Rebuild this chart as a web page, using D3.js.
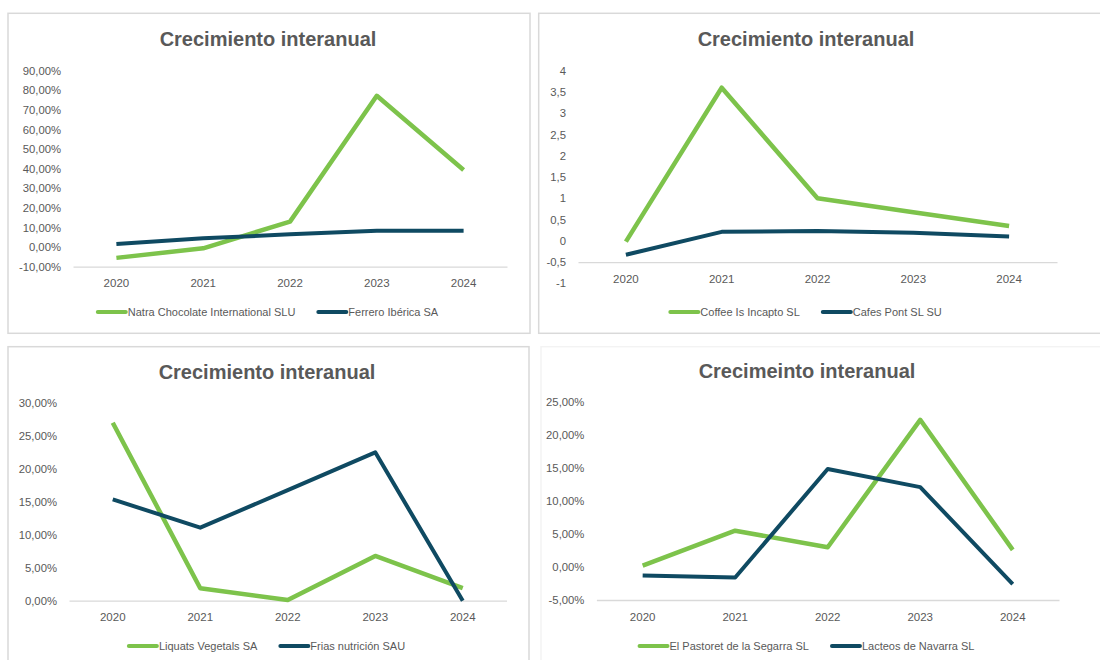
<!DOCTYPE html>
<html>
<head>
<meta charset="utf-8">
<script src="https://cdn.jsdelivr.net/npm/d3@7"></script>
<style>
  html, body { margin: 0; padding: 0; background: #ffffff; }
  svg { display: block; }
  text { font-family: "Liberation Sans", Arial, sans-serif; }
</style>
</head>
<body>
<svg id="chart" width="1100" height="660"></svg>
<script>
// ---------------- DATA ----------------
const years = ["2020", "2021", "2022", "2023", "2024"];

// Panel 1
const title1 = "Crecimiento interanual";
const names1 = ["Natra Chocolate International SLU", "Ferrero Ibérica SA"];
const natra = [-0.055, -0.006, 0.13, 0.772, 0.393];
const ferrero = [0.016, 0.045, 0.065, 0.084, 0.083];
const ticks1 = [-0.1, 0, 0.1, 0.2, 0.3, 0.4, 0.5, 0.6, 0.7, 0.8, 0.9];

// Panel 2
const title2 = "Crecimiento interanual";
const names2 = ["Coffee Is Incapto SL", "Cafes Pont SL SU"];
const incapto = [-0.02, 3.6, 1.0, 0.67, 0.35];
const cafesPont = [-0.33, 0.21, 0.23, 0.19, 0.10];
const ticks2 = [-1, -0.5, 0, 0.5, 1, 1.5, 2, 2.5, 3, 3.5, 4];

// Panel 3
const title3 = "Crecimiento interanual";
const names3 = ["Liquats Vegetals SA", "Frias nutrición SAU"];
const liquats = [0.2705, 0.019, 0.001, 0.068, 0.019];
const frias = [0.154, 0.111, 0.168, 0.2255, 0.0];
const ticks3 = [0, 0.05, 0.1, 0.15, 0.2, 0.25, 0.3];

// Panel 4
const title4 = "Crecimeinto interanual";
const names4 = ["El Pastoret de la Segarra SL", "Lacteos de Navarra SL"];
const pastoret = [0.002, 0.055, 0.030, 0.223, 0.026];
const lacteos = [-0.013, -0.016, 0.1485, 0.121, -0.026];
const ticks4 = [-0.05, 0, 0.05, 0.1, 0.15, 0.2, 0.25];

// ---------------- STYLE ----------------
const GREEN = "#7dc34b";
const DARK = "#0f4a62";
const TEXT = "#595959";
const GRID = "#d9d9d9";

const es = d3.formatLocale({ decimal: ",", thousands: ".", grouping: [3], currency: ["", " €"], minus: "-" });
const fmtPct = es.format(".2%");
const fmtNum = es.format(".2~f");

const svg = d3.select("#chart");

function drawPanel(cfg) {
  const g = svg.append("g");

  if (cfg.box) {
    g.append("rect")
      .attr("x", cfg.box[0]).attr("y", cfg.box[1])
      .attr("width", cfg.box[2]).attr("height", cfg.box[3])
      .attr("fill", "#fff").attr("stroke", cfg.boxColor || GRID).attr("stroke-width", 1.5);
  }

  // title
  g.append("text")
    .attr("x", cfg.cx).attr("y", cfg.titleY)
    .attr("text-anchor", "middle")
    .attr("dominant-baseline", "central")
    .attr("font-size", 20).attr("font-weight", "bold")
    .attr("fill", TEXT)
    .text(cfg.title);

  const x = d3.scaleBand().domain(years).range([cfg.xr[0], cfg.xr[1]]);
  const y = d3.scaleLinear().domain(cfg.yd).range(cfg.yr);

  // y axis labels
  const ya = g.append("g")
    .attr("transform", `translate(${cfg.xr[0]},0)`)
    .call(d3.axisLeft(y).tickValues(cfg.ticks).tickSize(0).tickPadding(12).tickFormat(cfg.fmt));
  ya.select(".domain").remove();
  ya.selectAll("text").attr("fill", TEXT).attr("font-size", 11.3)
    .attr("font-family", "Liberation Sans, Arial, sans-serif");

  // x axis
  const xa = g.append("g")
    .attr("transform", `translate(0,${y(cfg.axisAt)})`)
    .call(d3.axisBottom(x).tickSize(0).tickPadding(cfg.xPad));
  xa.select(".domain").attr("stroke", GRID).attr("stroke-width", 1.3);
  xa.selectAll("text").attr("fill", TEXT).attr("font-size", 11.5)
    .attr("font-family", "Liberation Sans, Arial, sans-serif");

  const line = d3.line()
    .x((d, i) => x(years[i]) + x.bandwidth() / 2)
    .y(d => y(d));

  const series = [
    { name: cfg.names[0], values: cfg.s1, color: GREEN, w: 4.5 },
    { name: cfg.names[1], values: cfg.s2, color: DARK, w: 4 }
  ];

  // lines
  series.forEach(s => {
    g.append("path")
      .datum(s.values)
      .attr("fill", "none")
      .attr("stroke", s.color)
      .attr("stroke-width", s.w)
      .attr("stroke-linejoin", "round")
      .attr("stroke-linecap", "butt")
      .attr("d", line);
  });

  // legend
  const lg = g.append("g");
  let cursor = 0;
  series.forEach((s) => {
    const it = lg.append("g");
    it.append("line")
      .attr("x1", 0).attr("x2", 28).attr("y1", 0).attr("y2", 0)
      .attr("stroke", s.color).attr("stroke-width", 4).attr("stroke-linecap", "round");
    const t = it.append("text")
      .attr("x", 30).attr("y", 0)
      .attr("dominant-baseline", "central")
      .attr("font-size", 11).attr("fill", TEXT)
      .text(s.name);
    const w = 30 + t.node().getComputedTextLength();
    it.attr("transform", `translate(${cursor},0)`);
    cursor += w + 23;
  });
  const total = cursor - 23;
  lg.attr("transform", `translate(${cfg.cx - total / 2},${cfg.legendY})`);
}

drawPanel({
  box: [8, 13.3, 522, 320],
  cx: 268, titleY: 39,
  title: title1, names: names1, s1: natra, s2: ferrero,
  xr: [73, 507], yd: [-0.1, 0.9], yr: [266.7, 70.7], axisAt: -0.1,
  ticks: ticks1, fmt: fmtPct, xPad: 12, legendY: 312
});

drawPanel({
  box: [538.7, 13.3, 570, 320],
  cx: 806, titleY: 39,
  title: title2, names: names2, s1: incapto, s2: cafesPont,
  xr: [578, 1057], yd: [-1, 4], yr: [283.3, 70.7], axisAt: -0.5,
  ticks: ticks2, fmt: fmtNum, xPad: 12.5, legendY: 312
});

drawPanel({
  box: [8, 346.7, 521, 330],
  cx: 267, titleY: 371.7,
  title: title3, names: names3, s1: liquats, s2: frias,
  xr: [69, 506.5], yd: [0, 0.3], yr: [600.7, 403.3], axisAt: 0,
  ticks: ticks3, fmt: fmtPct, xPad: 12.5, legendY: 646
});

drawPanel({
  box: [541, 346.7, 570, 330], boxColor: "#f3f3f3",
  cx: 807, titleY: 370.7,
  title: title4, names: names4, s1: pastoret, s2: lacteos,
  xr: [596.4, 1059], yd: [-0.05, 0.25], yr: [600, 402], axisAt: -0.05,
  ticks: ticks4, fmt: fmtPct, xPad: 12.5, legendY: 646
});
</script>
</body>
</html>
